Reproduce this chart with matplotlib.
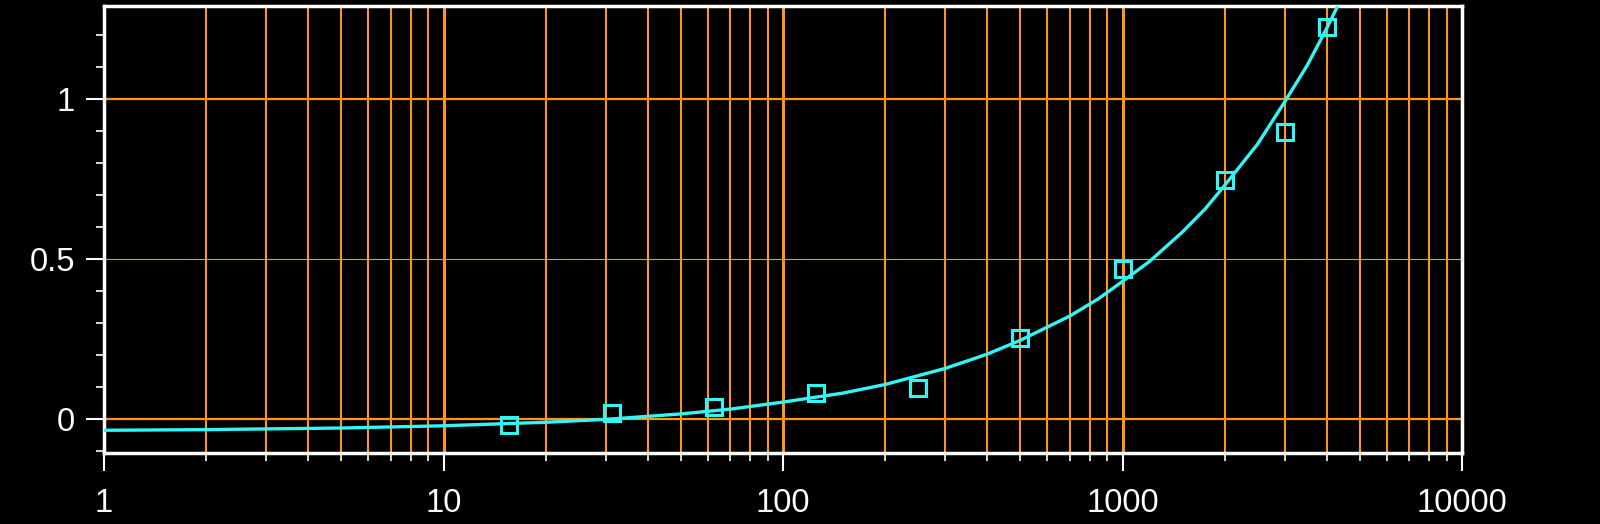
import numpy as np
import matplotlib
matplotlib.use('Agg')
from matplotlib import pyplot as plt
from matplotlib.ticker import LogLocator, MultipleLocator, FixedLocator, FixedFormatter

plt.rcParams['font.family'] = ['Liberation Sans', 'DejaVu Sans']

# measured points
conc = [15.6, 31.25, 62.5, 125, 250, 500, 1000, 2000, 3000, 4000]
signal = [-0.017, 0.019, 0.038, 0.081, 0.097, 0.253, 0.47, 0.748, 0.897, 1.225]

# fitted curve
fit_x = [1, 2, 5, 10, 20, 30, 50, 70, 100, 150, 200, 300, 400, 500, 700, 850, 1000,
         1200, 1500, 1750, 2000, 2500, 3000, 3500, 4000, 4600]
fit_y = [-0.035, -0.033, -0.028, -0.021, -0.010, -0.001, 0.016, 0.031, 0.053, 0.081,
         0.108, 0.158, 0.203, 0.246, 0.322, 0.376, 0.430, 0.492, 0.584, 0.656,
         0.730, 0.859, 0.990, 1.105, 1.222, 1.353]

hlines = [0, 0.5, 1]
hline_w = [1.6, 0.8, 1.6]
xtick_labels = ['1', '10', '100', '1000', '10000']

orange = '#ff9619'
cyan = '#33f5f5'

fig = plt.figure(figsize=(16, 5.24), dpi=100, facecolor='black')
ax = fig.add_axes([0.065, 0.1355, 0.8488, 0.853])
ax.set_facecolor('black')

ax.set_xscale('log')
ax.set_xlim(1, 10000)
ax.set_ylim(-0.106, 1.29)

ax.xaxis.set_major_locator(FixedLocator([1, 10, 100, 1000, 10000]))
ax.xaxis.set_major_formatter(FixedFormatter(xtick_labels))
ax.xaxis.set_minor_locator(LogLocator(base=10, subs=np.arange(2, 10)))
ax.xaxis.set_minor_formatter(plt.NullFormatter())
ax.yaxis.set_major_locator(FixedLocator([0, 0.5, 1]))
ax.yaxis.set_major_formatter(FixedFormatter(['0', '0.5', '1']))
ax.yaxis.set_minor_locator(MultipleLocator(0.1))

ax.grid(True, which='major', axis='x', color=orange, lw=2.2)
ax.grid(True, which='minor', axis='x', color=orange, lw=1.5)
for yv, w in zip(hlines, hline_w):
    ax.axhline(yv, color=orange, lw=w, zorder=1)

ax.plot(fit_x, fit_y, color=cyan, lw=2.4, zorder=3)
ax.plot(conc, signal, ls='none', marker='s', ms=12, mfc='none', mec=cyan, mew=2.2, zorder=4)

for s in ax.spines.values():
    s.set_color('white')
    s.set_linewidth(2.5)

ax.tick_params(which='major', direction='out', colors='white', length=13, width=1.5,
               labelsize=23.5, pad=8)
ax.tick_params(which='minor', direction='out', colors='white', length=6, width=1.2)
ax.tick_params(axis='x', which='major', pad=12)

fig.savefig('out.png', dpi=100, facecolor='black')
